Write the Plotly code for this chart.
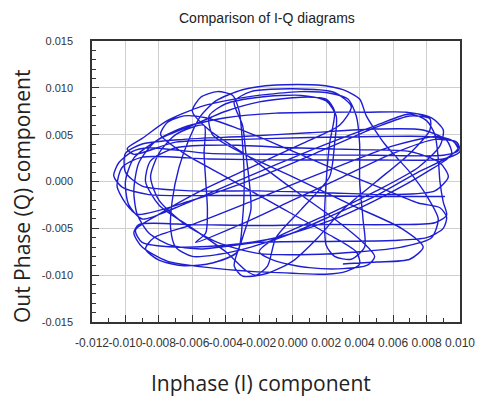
import plotly.graph_objects as go

# I-Q trajectory, values in units of 1e-3
I_MILLI = [
    9.1, 5.0, 0.0, -5.0, -8.6, -10.2, -10.7, -10.4, -9.6, -8.6,
    -5.0, 0.0, 5.0, 9.0, 9.9, 9.6, 8.6,
    6.0, 3.0, 0.0, -3.0, -6.0, -8.3, -8.8, -8.0, -6.5, -4.8,
    -3.3, -3.0, -2.9, -3.0, -3.2, -3.6, -4.5, -5.5, -6.0,
    -5.0, -2.5, 0.0, 2.5, 4.2, 4.9, 4.5, 3.0, 1.0, -1.0,
    -2.0, -1.0, 2.0, 5.0, 7.5, 8.8, 9.0, 8.3, 6.8,
    4.5, 2.0, -1.0, -4.0, -6.5, -8.2,
    -9.2, -9.5, -9.3, -8.6, -7.3, -5.5,
    -2.0, 2.0, 6.0, 8.0, 9.0, 9.2, 8.8, 7.5,
    5.0, 2.0, -1.0, -3.5, -5.2, -6.5, -7.5, -7.9,
    -6.5, -4.0, -1.0, 2.0, 3.8, 4.0, 3.2, 2.0,
    0.0, -2.5, -5.0, -7.5, -9.0, -9.5, -9.2,
    -6.0, -2.0, 2.0, 6.0, 8.5, 9.2, 9.0,
    8.8, 8.7, 8.5, 8.0, 7.0,
    5.0, 2.0, -1.0, -4.0, -7.0, -9.0,
    -9.8, -10.0, -9.5, -8.0, -6.0, -4.0, -2.0, 0.5, 2.0, 2.5,
    2.2, 2.0, 1.9, 2.0, 2.5, 3.5, 4.3,
    4.2, 4.0, 4.0, 3.8, 3.3, 2.3, 0.5, -1.5,
    -3.5, -5.5, -7.5, -9.0, -9.9, -9.5,
    -7.0, -3.0, 1.0, 5.0, 8.0, 9.5, 9.9, 9.3,
    7.5, 5.0, 2.5, 0.0, -2.5, -4.5, -6.0,
    -7.0, -7.3, -7.2, -6.8, -6.2, -5.5, -4.6, -3.0, -1.0, 1.5, 3.0, 4.0, 4.4,
    5.5, 7.0, 8.0, 8.7, 8.3, 6.5, 4.0, 1.0, -2.0,
    -4.5, -6.5, -8.0, -8.5, -8.0, -7.0, -5.3,
    -5.3, -5.2, -5.1, -5.2, -5.8,
    -3.0, 0.0, 3.0, 6.0, 8.5, 9.8, 10.0, 9.0,
    5.0, 0.0, -5.0, -9.0, -10.2, -10.5, -10.0, -9.3,
    -6.0, -2.0, 2.0, 5.0, 7.0, 8.2, 8.2,
    7.0, 5.0, 3.0, 1.5, 0.0, -1.5, -3.0, -3.5,
    -3.0, -2.5, -2.6, -2.8, -3.0,
    -3.5, -2.5, 0.0, 2.5, 3.5, 2.8, 0.5, -2.5, -5.5, -8.0,
    -9.4, -9.0, -7.0, -4.0, -1.0, 2.5, 5.5, 8.0, 9.5, 9.2,
    7.8, 5.0, 1.0, -3.0, -6.5, -9.0, -10.0, -10.0, -9.0, -6.0,
    -2.0, 2.0, 6.0, 8.5, 9.3, 8.8, 7.0, 4.0, 0.0, -4.0,
    -7.0, -8.5, -8.8, -8.0, -6.0, -4.0, -2.8, -2.2, -1.5, -1.0,
    0.5, 2.2, 2.5, 2.6, 2.0, 0.5, -2.0, -4.0, -5.0, -4.8,
    -3.0, 0.0, 3.5, 6.5, 7.8, 7.0, 5.0, 3.0,
]
Q_MILLI = [
    -1.6, -1.6, -1.5, -1.5, -1.4, -0.6, 0.6, 2.0, 3.2, 3.6,
    3.0, 2.9, 2.8, 2.8, 3.3, 4.3, 4.8,
    3.8, 1.8, -0.3, -2.5, -4.6, -6.0, -7.2, -8.4, -9.0, -8.7,
    -7.5, -4.0, 0.0, 4.0, 7.5, 9.2, 9.6, 9.0, 7.5,
    5.5, 2.5, -0.8, -4.0, -6.5, -8.0, -8.9, -9.3, -9.2, -8.5,
    -7.5, -6.0, -3.6, -1.0, 1.5, 3.8, 5.5, 6.8, 7.4,
    7.4, 7.4, 7.3, 6.8, 5.8, 4.3,
    2.0, -1.0, -3.5, -5.5, -6.8, -7.2,
    -6.5, -6.4, -6.3, -6.0, -5.0, -3.8, -2.8, -2.3,
    -0.5, 1.7, 4.0, 5.8, 6.8, 7.0, 6.3, 5.0,
    3.0, 0.5, -2.5, -5.5, -7.5, -8.8, -9.6, -9.9,
    -9.8, -9.6, -9.2, -8.5, -7.0, -5.5, -4.6,
    -4.6, -4.7, -4.6, -4.6, -4.4, -3.6, -2.2,
    0.0, 2.5, 5.0, 6.5, 7.2,
    6.0, 4.0, 1.8, -0.5, -2.8, -4.0,
    -2.5, 0.0, 2.5, 4.5, 6.0, 7.5, 8.5, 9.0, 8.8, 7.5,
    4.0, 0.0, -4.0, -6.8, -8.0, -8.3, -7.0,
    -4.0, 0.0, 4.0, 7.0, 8.8, 9.4, 9.6, 9.3,
    8.8, 8.0, 6.5, 4.6, 3.5, 2.9,
    4.2, 4.5, 4.7, 4.8, 4.8, 4.4, 3.6, 2.6,
    1.0, -1.5, -3.5, -5.5, -7.0, -7.8, -8.0,
    -7.0, -5.0, -2.0, 1.5, 4.5, 7.0, 8.6, 9.8, 10.3, 10.3, 9.8, 8.8, 7.0,
    4.0, 1.0, -1.5, -4.0, -6.0, -7.0, -7.5, -7.8, -7.7,
    -6.5, -4.5, -2.0, 0.5, 3.0, 5.0, 6.0,
    3.0, 0.0, -3.0, -5.5, -6.5,
    -4.5, -2.0, 0.5, 3.0, 4.5, 4.2, 3.2, 2.4,
    2.3, 2.3, 2.4, 2.6, 1.5, -0.5, -2.3, -3.5,
    -2.0, 0.5, 3.5, 5.8, 7.0, 6.7, 5.5,
    3.0, 0.0, -3.0, -6.0, -8.5, -9.8, -10.1, -9.0,
    -6.0, -3.0, 0.0, 3.0, 6.0,
    8.5, 9.6, 9.9, 9.5, 8.0, 6.0, 4.0, 1.5, -1.0, -3.5,
    -5.2, -6.5, -7.0, -6.8, -6.0, -4.0, -1.5, 1.0, 2.9, 4.4,
    5.5, 5.6, 5.2, 4.8, 4.5, 4.0, 3.0, 1.0, -0.5, -1.0,
    -1.0, -1.2, -1.4, -1.0, 0.5, 2.0, 3.2, 3.4, 3.6, 3.9,
    3.6, 2.2, 0.0, -2.5, -5.0, -7.5, -9.5, -10.0, -9.0, -6.0,
    -3.0, 0.5, 4.0, 7.0, 8.6, 9.2, 9.0, 8.3, 7.0, 5.0,
    3.0, 0.5, -2.5, -5.0, -7.0, -8.3, -8.6, -8.8,
]

X_TICKS = [-0.012, -0.010, -0.008, -0.006, -0.004, -0.002, 0.000, 0.002, 0.004, 0.006, 0.008, 0.010]
Y_TICKS = [-0.015, -0.010, -0.005, 0.000, 0.005, 0.010, 0.015]

i_comp = [v / 1000 for v in I_MILLI]
q_comp = [v / 1000 for v in Q_MILLI]

fig = go.Figure()
fig.add_trace(go.Scatter(
    x=i_comp, y=q_comp, mode="lines",
    line=dict(color="#1e1ed2", width=1.4, shape="spline", smoothing=0.7),
    showlegend=False, hoverinfo="skip",
))

axis_common = dict(
    showline=True, mirror=True, linecolor="#333", linewidth=1.5,
    showgrid=True, gridcolor="#cfcfcf", gridwidth=1,
    ticks="inside", ticklen=7, tickcolor="#333", tickwidth=1.2,
    zeroline=False, tickangle=0, automargin=False,
)
fig.update_xaxes(
    range=[-0.012, 0.010], tickvals=X_TICKS,
    ticktext=[f"{v:.3f}" for v in X_TICKS],
    tickfont=dict(family="Liberation Sans, Arial, sans-serif", size=12, color="#333"),
    ticklabelstandoff=9,
    minor=dict(dtick=0.001, tick0=-0.012, ticks="inside", ticklen=4, tickcolor="#333", showgrid=False),
    **axis_common,
)
fig.update_yaxes(
    range=[-0.015, 0.015], tickvals=Y_TICKS,
    ticktext=[f"{v:.3f}" for v in Y_TICKS],
    tickfont=dict(family="Liberation Sans, Arial, sans-serif", size=11, color="#333"),
    ticklabelstandoff=15,
    minor=dict(dtick=0.001, tick0=-0.015, ticks="inside", ticklen=4, tickcolor="#333", showgrid=False),
    **axis_common,
)

fig.update_layout(
    width=485, height=401,
    margin=dict(l=92, r=25, t=41, b=79, autoexpand=False),
    paper_bgcolor="white", plot_bgcolor="white",
    annotations=[
        dict(text="Comparison of I-Q diagrams", xref="paper", yref="paper",
             x=0.475, y=1.082, showarrow=False, xanchor="center", yanchor="middle",
             font=dict(family="Liberation Sans, Arial, sans-serif", size=14, color="#222")),
        dict(text="Inphase (I) component", xref="paper", yref="paper",
             x=0.46, y=-0.217, showarrow=False, xanchor="center", yanchor="middle",
             font=dict(family="Open Sans, sans-serif", size=21, color="#222")),
        dict(text="Out Phase (Q) component", xref="paper", yref="paper",
             x=-0.19, y=0.445, showarrow=False, textangle=-90, xanchor="center", yanchor="middle",
             font=dict(family="Open Sans, sans-serif", size=21, color="#222")),
    ],
)

fig.write_html(
    "out.html",
    config={"displayModeBar": False},
    post_script="document.body.style.margin='0';document.body.style.padding='0';",
)
